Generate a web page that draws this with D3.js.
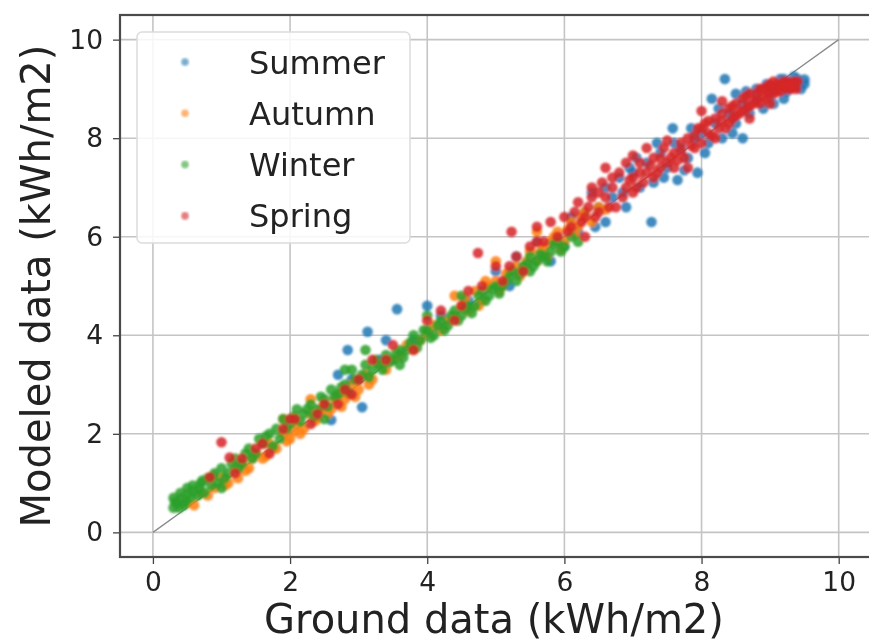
<!DOCTYPE html>
<html>
<head>
<meta charset="utf-8">
<script src="https://cdn.jsdelivr.net/npm/d3@7"></script>
<style>
  body { margin: 0; background: #fff; }
  svg { display: block; font-family: "DejaVu Sans", sans-serif; }
</style>
</head>
<body>
<svg width="869" height="641"></svg>
<script>
// tick values and series
const ticks = [0, 2, 4, 6, 8, 10]
const seasons = ["Summer", "Autumn", "Winter", "Spring"]
const colors = ["#1f77b4", "#ff7f0e", "#2ca02c", "#d62728"]

const summer = [[2.6,2.28],[3.05,2.54],[2.84,3.7],[3.13,4.07],[3.56,4.53],[2.9,3.1],[3.3,3.5],[3.8,3.9],[4.2,4.4],[4.6,4.7],[5.0,5.3],[5.3,5.6],[5.6,5.9],[5.9,6.0],[6.1,6.4],[6.3,6.5],[6.4,6.9],[6.5,6.6],[6.6,7.0],[6.7,6.8],[6.8,7.2],[6.9,6.6],[7.0,7.3],[7.1,7.0],[7.27,6.3],[7.2,7.5],[7.3,7.1],[7.4,7.7],[7.5,7.4],[7.58,8.2],[7.65,7.15],[7.7,7.8],[7.8,7.6],[7.94,7.3],[7.9,8.0],[8.0,8.1],[8.15,8.8],[8.1,7.9],[8.2,8.3],[8.34,9.2],[8.3,8.0],[8.4,8.5],[8.5,8.3],[8.6,8.0],[8.6,8.7],[8.7,8.5],[8.8,8.8],[8.9,8.6],[9.0,8.9],[9.1,9.0],[9.2,8.8],[9.3,9.1],[9.4,9.2],[9.5,9.19],[9.45,9.0],[9.35,9.25],[6.0,5.8],[6.2,6.1],[5.8,5.5],[7.6,7.9],[8.8,9.0],[9.2,9.2],[6.95,7.4],[7.35,7.9],
  [6.45,6.2],[6.85,6.9],[7.05,7.6],[7.45,7.2],[7.85,8.2],[8.05,7.7],[8.25,8.6],[8.45,8.1],[8.65,8.95],[8.95,9.1],[9.05,8.7],[9.15,9.2],[9.25,8.95],[9.4,9.05],[9.5,9.1],[5.2,5.0],[4.0,4.6],[3.4,3.9],[2.7,3.2],[6.6,6.3],[7.75,7.35],[8.5,8.9]]

const autumn = [[0.5,0.6],[0.7,0.8],[0.9,0.9],[1.0,1.1],[1.1,1.0],[1.24,1.1],[1.3,1.4],[1.4,1.3],[1.5,1.6],[1.6,1.5],[1.7,1.8],[1.8,1.7],[1.9,2.0],[2.0,1.9],[2.1,2.2],[2.2,2.1],[2.3,2.4],[2.4,2.3],[2.5,2.6],[2.6,2.5],[2.7,2.8],[2.8,2.7],[2.9,3.0],[3.0,2.9],[3.1,3.2],[3.2,3.1],[3.3,3.4],[3.5,3.5],[3.7,3.8],[3.9,3.9],[4.1,4.2],[4.3,4.3],[4.5,4.6],[4.6,4.5],[4.7,4.9],[4.8,4.7],[4.9,5.0],[5.0,5.1],[5.1,5.0],[5.2,5.3],[5.3,5.4],[5.4,5.3],[5.5,5.7],[5.6,5.5],[5.7,5.8],[5.8,5.9],[5.9,6.1],[6.0,5.9],[6.1,6.3],[6.2,6.2],[6.3,6.5],[6.5,6.6],[4.4,4.8],[5.0,5.5],[5.6,6.1],[2.3,2.7],[1.9,2.3],[3.4,3.3],[1.2,1.3],[2.75,2.55],
  [0.6,0.55],[0.8,0.75],[1.05,0.95],[1.35,1.25],[1.45,1.5],[1.65,1.55],[1.75,1.7],[1.95,1.85],[2.05,2.05],[2.15,2.0],[2.35,2.25],[2.45,2.5],[2.55,2.4],[2.65,2.7],[2.85,2.8],[2.95,2.75],[3.15,3.0],[3.6,3.6],[3.8,3.7],[4.0,4.05],[4.2,4.1],[4.4,4.4],[4.55,4.75],[4.75,4.6],[4.85,5.1],[5.05,4.9],[5.15,5.25],[5.35,5.2],[5.45,5.5],[5.65,5.7],[5.75,5.6],[5.85,6.0],[5.95,5.75],[6.05,6.15],[6.15,6.05],[6.25,6.4],[6.4,6.3],[6.6,6.55]]

const winter = [[0.3,0.5],[0.3,0.7],[0.35,0.6],[0.4,0.8],[0.45,0.55],[0.5,0.9],[0.55,0.7],[0.6,0.85],[0.7,1.0],[0.75,0.8],[0.8,1.1],[0.9,1.2],[0.95,1.0],[1.0,1.3],[1.1,1.2],[1.2,1.5],[1.3,1.4],[1.35,1.6],[1.4,1.7],[1.5,1.6],[1.55,1.9],[1.6,1.8],[1.7,2.0],[1.8,2.1],[1.85,1.9],[1.9,2.3],[2.0,2.2],[2.1,2.5],[2.2,2.4],[2.3,2.6],[2.4,2.5],[2.5,2.7],[2.6,2.9],[2.7,2.8],[2.8,3.0],[2.9,3.3],[3.0,3.1],[3.1,3.4],[3.2,3.3],[3.3,3.4],[3.4,3.6],[3.5,3.5],[3.6,3.7],[3.7,3.7],[3.8,4.0],[3.9,3.9],[4.0,4.1],[4.1,4.0],[4.2,4.3],[4.3,4.2],[4.4,4.5],[4.5,4.4],[4.6,4.6],[4.7,4.6],[4.8,4.9],[4.9,4.8],[5.0,5.0],[5.1,5.0],[5.2,5.2],[5.3,5.1],[5.4,5.4],[5.5,5.3],[5.6,5.5],[5.7,5.6],[5.8,5.7],[5.9,5.9],[6.0,5.8],[6.1,6.0],[3.1,3.7],[2.5,2.3],[4.5,4.8],[5.5,5.6],[6.2,5.9],[1.0,0.9],[2.8,3.3],[3.6,3.4],[4.0,4.4],
  [0.32,0.62],[0.38,0.5],[0.42,0.7],[0.48,0.62],[0.52,0.8],[0.58,0.95],[0.65,0.75],[0.68,0.9],[0.72,1.05],[0.85,0.95],[0.88,1.15],[1.05,1.1],[1.15,1.4],[1.25,1.3],[1.45,1.5],[1.65,1.95],[1.75,1.75],[1.95,2.1],[2.05,2.35],[2.15,2.25],[2.25,2.5],[2.35,2.35],[2.45,2.75],[2.55,2.55],[2.65,2.75],[2.75,2.95],[2.85,2.85],[2.95,3.1],[3.05,3.2],[3.15,3.15],[3.25,3.5],[3.35,3.3],[3.45,3.45],[3.55,3.65],[3.65,3.55],[3.75,3.85],[3.85,3.75],[3.95,4.1],[4.05,3.95],[4.15,4.2],[4.25,4.1],[4.35,4.4],[4.45,4.3],[4.55,4.55],[4.65,4.45],[4.75,4.8],[4.85,4.7],[4.95,4.95],[5.05,4.85],[5.15,5.1],[5.25,5.3],[5.35,5.25],[5.45,5.45],[5.55,5.4],[5.65,5.65],[5.75,5.5],[5.85,5.85],[5.95,5.7]]

const spring = [[0.83,1.12],[1.0,1.83],[1.12,1.52],[1.3,1.5],[1.5,1.7],[1.7,1.6],[1.9,2.1],[2.07,2.3],[2.3,2.2],[2.5,2.6],[2.7,2.6],[2.9,2.8],[3.2,3.5],[3.5,3.8],[3.8,3.7],[4.0,4.3],[4.2,4.5],[4.4,4.3],[4.6,4.9],[4.74,5.67],[4.8,5.0],[5.0,5.4],[5.1,5.1],[5.23,6.1],[5.3,5.6],[5.5,5.8],[5.6,6.2],[5.7,5.9],[5.8,6.3],[5.9,6.0],[6.0,6.4],[6.1,6.2],[6.2,6.7],[6.3,6.4],[6.4,6.8],[6.5,6.5],[6.55,7.1],[6.6,6.8],[6.7,7.0],[6.75,6.6],[6.8,7.3],[6.9,7.0],[7.0,7.2],[7.0,6.9],[7.1,7.5],[7.15,7.1],[7.2,7.3],[7.3,7.6],[7.3,7.2],[7.4,7.4],[7.45,7.8],[7.5,7.5],[7.6,7.7],[7.6,7.4],[7.7,7.9],[7.75,7.6],[7.8,8.0],[7.9,7.8],[7.95,8.2],[8.0,7.9],[8.05,8.3],[8.1,8.1],[8.2,8.4],[8.2,8.0],[8.3,8.5],[8.35,8.2],[8.4,8.6],[8.45,8.4],[8.5,8.7],[8.55,8.5],[8.6,8.8],[8.65,8.6],[8.7,8.9],[8.75,8.7],[8.8,8.9],[8.85,8.7],[8.9,9.0],[8.95,8.8],[9.0,9.1],[9.05,8.9],[9.1,9.1],[9.15,8.95],[9.2,9.15],[9.25,9.0],[9.3,9.1],[9.35,9.05],[9.4,9.15],[8.0,8.55],[7.2,7.8],[6.6,7.4],[6.9,7.5],[8.7,8.4],[9.0,8.7],[7.8,7.4],[6.3,6.0],[5.4,5.3],
  [6.05,6.1],[6.15,6.5],[6.25,6.3],[6.35,6.6],[6.45,6.4],[6.5,6.9],[6.65,6.6],[6.7,7.2],[6.85,6.8],[6.95,7.15],[7.05,7.0],[7.1,7.3],[7.25,7.45],[7.35,7.3],[7.4,7.6],[7.55,7.6],[7.65,7.55],[7.7,7.75],[7.85,7.85],[7.9,8.05],[8.0,8.2],[8.1,8.35],[8.15,8.05],[8.25,8.2],[8.3,8.35],[8.4,8.3],[8.45,8.65],[8.5,8.45],[8.6,8.55],[8.65,8.85],[8.7,8.65],[8.8,8.75],[8.85,9.0],[8.9,8.85],[8.95,9.05],[9.0,8.95],[9.05,9.15],[9.1,8.95],[9.15,9.1],[9.2,9.05],[9.25,9.15],[9.3,9.0],[9.35,9.15],[9.38,9.0],[7.5,7.95],[7.0,7.65],[6.4,7.0],[8.3,8.75],[2.0,2.3],[2.4,2.4],[2.8,2.9],[3.0,3.1],[3.4,3.5],[4.5,4.6],[5.2,5.4],[5.6,5.9],[1.6,1.8],[1.2,1.2]]

const series = [summer, autumn, winter, spring]

const svg = d3.select("svg")

// axes box
const boxLeft = 120, boxRight = 873, boxTop = 15, boxBottom = 557

const scaleX = d3.scaleLinear()
    .domain([-0.48, 10.5])
    .range([boxLeft, boxRight])
const scaleY = d3.scaleLinear()
    .domain([-0.5, 10.5])
    .range([boxBottom, boxTop])

const defs = svg.append("defs")
defs.append("filter")
    .attr("id", "soft")
    .append("feGaussianBlur")
    .attr("stdDeviation", 1)
defs.append("filter")
    .attr("id", "softText")
    .append("feGaussianBlur")
    .attr("stdDeviation", 0.45)
defs.append("clipPath")
    .attr("id", "plot")
    .append("rect")
    .attr("x", boxLeft).attr("y", boxTop)
    .attr("width", boxRight - boxLeft).attr("height", boxBottom - boxTop)

// grid
const grid = svg.append("g").attr("stroke", "#c4c4c4").attr("stroke-width", 1.6)
grid.selectAll("line.gx")
    .data(ticks)
    .enter()
    .append("line")
    .attr("class", "gx")
    .attr("x1", d => scaleX(d)).attr("x2", d => scaleX(d))
    .attr("y1", boxTop).attr("y2", boxBottom)
grid.selectAll("line.gy")
    .data(ticks)
    .enter()
    .append("line")
    .attr("class", "gy")
    .attr("x1", boxLeft).attr("x2", boxRight)
    .attr("y1", d => scaleY(d)).attr("y2", d => scaleY(d))

// 1:1 line
svg.append("line")
    .attr("x1", scaleX(0)).attr("y1", scaleY(0))
    .attr("x2", scaleX(10)).attr("y2", scaleY(10))
    .attr("stroke", "#8a8a8a")
    .attr("stroke-width", 1.3)

// points
const pts = svg.append("g")
    .attr("clip-path", "url(#plot)")
    .attr("filter", "url(#soft)")
series.forEach((data, i) => {
    pts.append("g")
        .selectAll("circle")
        .data(data)
        .enter()
        .append("circle")
        .attr("cx", d => scaleX(d[0]))
        .attr("cy", d => scaleY(d[1]))
        .attr("r", 5.3)
        .attr("fill", colors[i])
        .attr("fill-opacity", 0.85)
})

// axes
const axisX = d3.axisBottom(scaleX)
    .tickValues(ticks)
    .tickSizeInner(7)
    .tickSizeOuter(0)
    .tickPadding(8)
svg.append("g")
    .attr("class", "x-axis")
    .attr("transform", `translate(0, ${boxBottom})`)
    .call(axisX)

const axisY = d3.axisLeft(scaleY)
    .tickValues(ticks)
    .tickSizeInner(7)
    .tickSizeOuter(0)
    .tickPadding(10)
svg.append("g")
    .attr("class", "y-axis")
    .attr("transform", `translate(${boxLeft}, 0)`)
    .call(axisY)

svg.selectAll(".x-axis text, .y-axis text")
    .attr("font-size", 26.5)
    .attr("font-family", "DejaVu Sans")
    .attr("fill", "#222")
    .attr("filter", "url(#softText)")
svg.selectAll(".x-axis .domain, .y-axis .domain").remove()
svg.selectAll(".tick line").attr("stroke", "#444").attr("stroke-width", 1.3)

// frame
svg.append("rect")
    .attr("x", boxLeft).attr("y", boxTop)
    .attr("width", boxRight - boxLeft).attr("height", boxBottom - boxTop)
    .attr("fill", "none")
    .attr("stroke", "#4a4a4a")
    .attr("stroke-width", 2.2)

// axis titles
svg.append("text")
    .attr("x", 494).attr("y", 633)
    .attr("text-anchor", "middle")
    .attr("font-size", 40)
    .attr("fill", "#222")
    .attr("filter", "url(#softText)")
    .text("Ground data (kWh/m2)")
svg.append("text")
    .attr("transform", "translate(50, 286) rotate(-90)")
    .attr("text-anchor", "middle")
    .attr("font-size", 40)
    .attr("fill", "#222")
    .attr("filter", "url(#softText)")
    .text("Modeled data (kWh/m2)")

// legend
const legend = svg.append("g")
legend.append("rect")
    .attr("x", 137).attr("y", 32)
    .attr("width", 273).attr("height", 211)
    .attr("rx", 5)
    .attr("fill", "#fff").attr("fill-opacity", 0.85)
    .attr("stroke", "#dcdcdc").attr("stroke-width", 1.5)
const entries = legend.selectAll("g.entry")
    .data(seasons)
    .enter()
    .append("g")
    .attr("class", "entry")
    .attr("transform", (d, i) => `translate(0, ${62 + i * 51.3})`)
entries.append("circle")
    .attr("cx", 185).attr("cy", 0).attr("r", 3.8)
    .attr("fill", (d, i) => colors[i])
    .attr("fill-opacity", 0.6)
    .attr("filter", "url(#soft)")
entries.append("text")
    .attr("x", 249).attr("y", 0)
    .attr("dy", "0.36em")
    .attr("font-size", 32)
    .attr("fill", "#222")
    .attr("filter", "url(#softText)")
    .text(d => d)
</script>
</body>
</html>
